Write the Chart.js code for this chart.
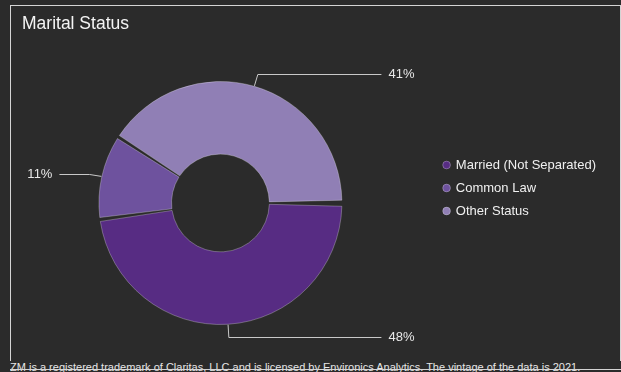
<!DOCTYPE html>
<html lang="en">
<head>
    <meta charset="UTF-8">
    <title>Marital Status</title>
    <style>
        html, body {
            margin: 0;
            padding: 0;
            width: 621px;
            height: 372px;
            overflow: hidden;
            background: #2b2b2b;
            font-family: "Liberation Sans", Arial, sans-serif;
        }
        #frame {
            position: absolute;
            left: 10px;
            top: 5px;
            width: 611px;
            height: 356px;
            box-sizing: border-box;
            border: 1px solid #d4d4d4;
            border-bottom: none;
        }
        #footer {
            position: absolute;
            left: 10px;
            top: 361px;
            width: 611px;
            height: 11px;
            line-height: 13px;
            font-size: 11px;
            color: #e6e6e6;
            background: #2b2b2b;
            white-space: nowrap;
            overflow: hidden;
        }
        #baseLine {
            position: absolute;
            left: 10px;
            top: 369px;
            width: 611px;
            height: 1px;
            background: #d4d4d4;
        }
    </style>
</head>
<body>
    <div id="frame"></div>
    <canvas id="maritalChart" width="621" height="372" style="position:absolute;left:0;top:0;"></canvas>
    <div id="footer">ZM is a registered trademark of Claritas, LLC and is licensed by Environics Analytics. The vintage of the data is 2021.</div>
    <div id="baseLine"></div>

    <script src="https://cdn.jsdelivr.net/npm/chart.js"></script>
    <script>
        // Dados do gráfico
        const categories = ["Married (Not Separated)", "Common Law", "Other Status"];
        const shares = [48, 11, 41];
        const sliceColors = ["#572c83", "#6e529e", "#907fb5"];

        Chart.defaults.font.family = '"Liberation Sans", Arial, sans-serif';
        Chart.defaults.color = "#f0f0f0";

        // título fica mais à direita que a área do gráfico
        const titleInset = 15;
        const areaShift = {
            id: "areaShift",
            afterLayout(chart) {
                chart.chartArea.left -= titleInset;
                chart.chartArea.width += titleInset;
            }
        };

        // rótulos de porcentagem com linhas de chamada
        const leaderLabels = {
            id: "leaderLabels",
            afterDatasetsDraw(chart) {
                const ctx = chart.ctx;
                const meta = chart.getDatasetMeta(0);
                const total = shares.reduce((a, b) => a + b, 0);
                ctx.save();
                ctx.strokeStyle = "#c8c8c8";
                ctx.lineWidth = 1;
                ctx.fillStyle = "#e8e8e8";
                ctx.font = '13px "Liberation Sans", Arial, sans-serif';
                ctx.textBaseline = "middle";
                meta.data.forEach((arc, i) => {
                    const p = arc.getProps(["x", "y", "startAngle", "endAngle", "outerRadius"], true);
                    const mid = (p.startAngle + p.endAngle) / 2;
                    const cos = Math.cos(mid), sin = Math.sin(mid);
                    const r0 = p.outerRadius + 2;
                    const r1 = p.outerRadius + 14;
                    const side = cos >= 0 ? 1 : -1;
                    const ex = p.x + cos * r1;
                    const ey = Math.round(p.y + sin * r1) + 0.5;
                    const lx = p.x + side * (p.outerRadius + 41);
                    ctx.beginPath();
                    ctx.moveTo(p.x + cos * r0, p.y + sin * r0);
                    ctx.lineTo(ex, ey);
                    ctx.lineTo(lx, ey);
                    ctx.stroke();
                    ctx.textAlign = side > 0 ? "left" : "right";
                    ctx.fillText(Math.round(shares[i] / total * 100) + "%", p.x + side * (p.outerRadius + 48), ey);
                });
                ctx.restore();
            }
        };

        const maritalChart = new Chart(document.getElementById("maritalChart"), {
            type: "doughnut",
            data: {
                labels: categories,
                datasets: [{
                    data: shares,
                    backgroundColor: sliceColors,
                    borderColor: "rgba(255,255,255,0.28)",
                    borderWidth: 1,
                    spacing: 3,
                    radius: 120,
                    cutout: "39.5%",
                    rotation: 90
                }]
            },
            options: {
                responsive: false,
                devicePixelRatio: 1,
                animation: false,
                layout: {
                    padding: { left: 22, right: 15, top: 5, bottom: 1 }
                },
                plugins: {
                    title: {
                        display: true,
                        text: "Marital Status",
                        align: "start",
                        color: "#f4f4f4",
                        font: { size: 17.5, weight: "normal" },
                        padding: { top: 8.5, bottom: 0.5 }
                    },
                    legend: {
                        position: "right",
                        align: "center",
                        labels: {
                            usePointStyle: true,
                            pointStyle: "circle",
                            boxWidth: 5.5,
                            boxHeight: 5.5,
                            padding: 10,
                            color: "#f0f0f0",
                            font: { size: 13 }
                        }
                    },
                    tooltip: { enabled: false }
                }
            },
            plugins: [areaShift, leaderLabels]
        });
    </script>
</body>
</html>
